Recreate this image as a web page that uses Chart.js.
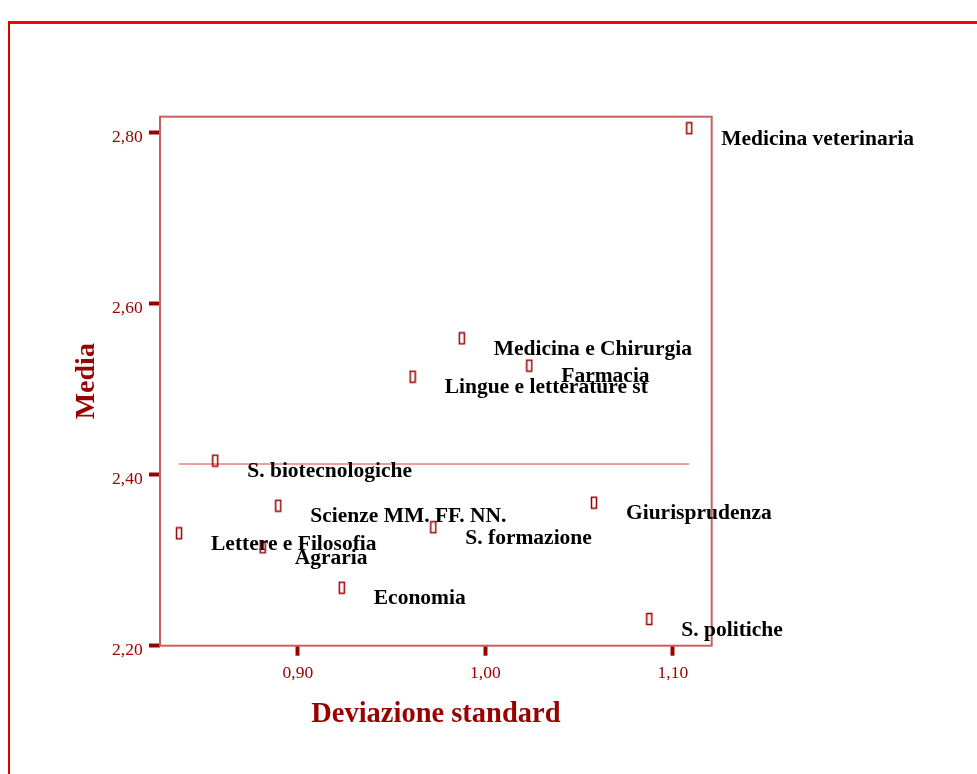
<!DOCTYPE html>
<html>
<head>
<meta charset="utf-8">
<script src="https://cdn.jsdelivr.net/npm/chart.js@4/dist/chart.umd.min.js"></script>
<style>
  html, body { margin: 0; padding: 0; background: #ffffff; }
  canvas { display: block; }
</style>
</head>
<body>
<canvas id="c" width="977" height="774"></canvas>
<script>
// ---- data ----
const categories = [
  'Medicina veterinaria', 'Medicina e Chirurgia', 'Farmacia', 'Lingue e letterature st',
  'S. biotecnologiche', 'Scienze MM. FF. NN.', 'Lettere e Filosofia', 'Agraria',
  'S. formazione', 'Economia', 'Giurisprudenza', 'S. politiche'
];
const stdDevValues = [1.1087, 0.9874, 1.0234, 0.9612, 0.8559, 0.8895, 0.8366, 0.8812, 0.9722, 0.9234, 1.0579, 1.0874];
const meanValues   = [2.8052, 2.5595, 2.5275, 2.5146, 2.4164, 2.3637, 2.3315, 2.3151, 2.3385, 2.2678, 2.3673, 2.2312];
const referenceMean = 2.4125;
const xTickValues = [0.90, 1.00, 1.10];
const xTickLabels = ['0,90', '1,00', '1,10'];
const yTickValues = [2.20, 2.40, 2.60, 2.80];
const yTickLabels = ['2,20', '2,40', '2,60', '2,80'];
const xTitle = 'Deviazione standard';
const yTitle = 'Media';

// ---- marker: small hollow tall rectangle ----
const marker = document.createElement('canvas');
marker.width = 8; marker.height = 14;
(function () {
  const m = marker.getContext('2d');
  m.strokeStyle = '#990000';
  m.lineWidth = 1.5;
  m.strokeRect(1.5, 1.5, 5, 11);
})();

const scatterPoints = stdDevValues.map((v, i) => ({ x: v, y: meanValues[i] }));
const minX = Math.min(...stdDevValues), maxX = Math.max(...stdDevValues);

const framePlugin = {
  id: 'frame',
  beforeDraw(chart) {
    const ctx = chart.ctx;
    ctx.save();
    ctx.fillStyle = '#ffffff';
    ctx.fillRect(0, 0, chart.width, chart.height);
    ctx.fillStyle = '#ff0000';
    ctx.fillRect(8, 21, chart.width - 8, 3);
    ctx.fillStyle = '#e00000';
    ctx.fillRect(8, 21, 2, chart.height - 21);
    ctx.restore();
  },
  beforeDatasetsDraw(chart) {
    const ctx = chart.ctx, a = chart.chartArea;
    ctx.save();
    ctx.strokeStyle = '#c86060';
    ctx.lineWidth = 2;
    ctx.strokeRect(a.left, a.top, a.right - a.left, a.bottom - a.top);
    ctx.restore();
  },
  afterDatasetsDraw(chart) {
    const ctx = chart.ctx;
    const meta = chart.getDatasetMeta(0);
    ctx.save();
    ctx.fillStyle = '#000000';
    ctx.font = 'bold 20px "Liberation Serif"';
    ctx.textBaseline = 'alphabetic';
    ctx.textAlign = 'left';
    meta.data.forEach((pt, i) => {
      ctx.save();
      ctx.translate(pt.x + 32, pt.y + 16.5);
      ctx.scale(1.075, 1);
      ctx.fillText(categories[i], 0, 0);
      ctx.restore();
    });
    ctx.restore();
  }
};

new Chart(document.getElementById('c'), {
  type: 'scatter',
  data: {
    datasets: [
      {
        label: 'Facoltà',
        data: scatterPoints,
        pointStyle: marker,
        pointRadius: 5,
        pointHoverRadius: 5,
        showLine: false,
        order: 1
      },
      {
        label: 'Media generale',
        type: 'line',
        data: [{ x: minX, y: referenceMean }, { x: maxX, y: referenceMean }],
        borderColor: '#dd3c3c',
        borderWidth: 1,
        pointRadius: 0,
        fill: false,
        order: 2
      }
    ]
  },
  options: {
    responsive: false,
    animation: false,
    devicePixelRatio: 1,
    layout: { padding: { left: 0, top: 116.7, right: 265.3, bottom: 0 } },
    plugins: { legend: { display: false }, tooltip: { enabled: false }, title: { display: false } },
    scales: {
      x: {
        type: 'linear',
        min: 0.82645,
        max: 1.1207,
        afterFit(scale) { scale.height = 774 - 645.7; },
        afterBuildTicks(scale) { scale.ticks = xTickValues.map(v => ({ value: v })); },
        ticks: {
          color: '#a00000',
          font: { family: 'Liberation Serif', size: 17.5 },
          padding: 7.2,
          maxRotation: 0,
          callback: (v) => { const i = xTickValues.findIndex(t => Math.abs(t - v) < 1e-6); return i >= 0 ? xTickLabels[i] : ''; }
        },
        grid: { display: true, drawOnChartArea: false, drawTicks: true, tickLength: 10, tickColor: '#990000', tickWidth: 4 },
        border: { display: false },
        title: {
          display: true,
          text: xTitle,
          color: '#990000',
          font: { family: 'Liberation Serif', size: 28.5, weight: 'bold' },
          padding: { top: 0, bottom: 42.2 }
        }
      },
      y: {
        type: 'linear',
        min: 2.20,
        max: 2.8187,
        afterFit(scale) { scale.width = 160; },
        afterBuildTicks(scale) { scale.ticks = yTickValues.map(v => ({ value: v })); },
        ticks: {
          color: '#a00000',
          font: { family: 'Liberation Serif', size: 17.5 },
          padding: 6.3,
          labelOffset: 5,
          callback: (v) => { const i = yTickValues.findIndex(t => Math.abs(t - v) < 1e-6); return i >= 0 ? yTickLabels[i] : ''; }
        },
        grid: { display: true, drawOnChartArea: false, drawTicks: true, tickLength: 11, tickColor: '#990000', tickWidth: 4 },
        border: { display: false },
        title: {
          display: true,
          text: yTitle,
          color: '#990000',
          font: { family: 'Liberation Serif', size: 28, weight: 'bold' },
          padding: { top: 69.7, bottom: 0 }
        }
      }
    }
  },
  plugins: [framePlugin]
});
</script>
</body>
</html>
